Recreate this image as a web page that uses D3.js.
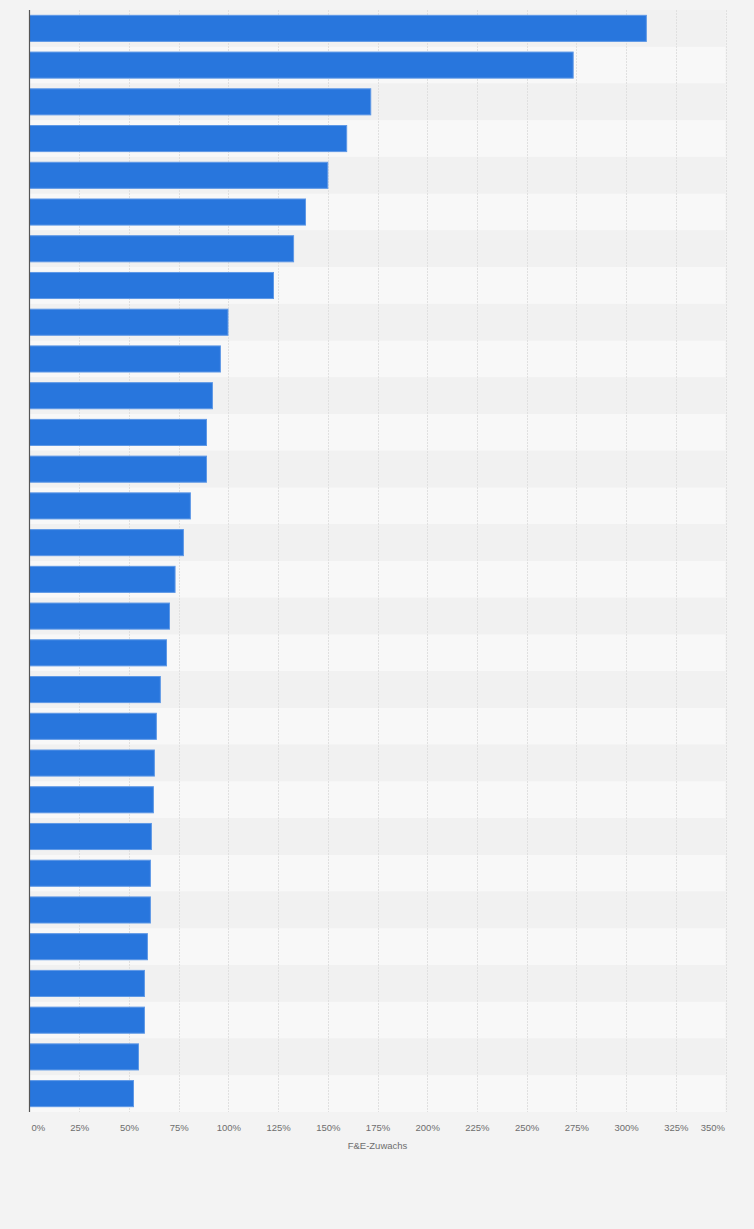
<!DOCTYPE html>
<html>
<head>
<meta charset="utf-8">
<script src="https://cdn.jsdelivr.net/npm/d3@7"></script>
<style>
  html, body { margin: 0; padding: 0; background: #f3f3f3; }
  svg { display: block; font-family: "Liberation Sans", Arial, sans-serif; }
</style>
</head>
<body>
<svg id="chart" width="754" height="1229"></svg>
<script>
// Categories (ranks; the reference shows no category labels)
const categories = ["1","2","3","4","5","6","7","8","9","10","11","12","13","14","15",
                    "16","17","18","19","20","21","22","23","24","25","26","27","28","29","30"];
// F&E-Zuwachs in %
const values = [310.2, 273.4, 171.6, 159.5, 150.0, 138.8, 132.8, 122.7, 99.8, 96.0,
                 92.0, 89.0, 89.0, 80.9, 77.4, 73.2, 70.4, 68.9, 65.8, 63.8,
                 62.8, 62.3, 61.3, 60.8, 60.8, 59.3, 57.8, 57.8, 54.8, 52.3];
const tickValues = [0, 25, 50, 75, 100, 125, 150, 175, 200, 225, 250, 275, 300, 325, 350];
const axisTitle = "F&E-Zuwachs";

(function () {
const svg = d3.select("#chart");
const W = 754, H = 1229;
const mLeft = 29.5, mRight = 725.5, mTop = 10, mBottom = 1112;

svg.append("rect").attr("width", W).attr("height", H).attr("fill", "#f3f3f3");

const x = d3.scaleLinear().domain([0, 350]).range([mLeft, mRight]);
const y = d3.scaleBand().domain(categories).range([mTop, mBottom]).paddingInner(0.29).paddingOuter(0.145);
const yRow = d3.scaleBand().domain(categories).range([mTop, mBottom]);

// alternating row bands
svg.append("g").selectAll("rect").data(categories).join("rect")
  .attr("x", mLeft).attr("width", mRight - mLeft)
  .attr("y", d => yRow(d)).attr("height", yRow.bandwidth())
  .attr("fill", (d, i) => i % 2 === 0 ? "#f1f1f1" : "#f8f8f8");

// gridlines
svg.append("g").selectAll("line").data(tickValues.slice(1)).join("line")
  .attr("x1", d => Math.round(x(d)) + 0.5).attr("x2", d => Math.round(x(d)) + 0.5)
  .attr("y1", mTop).attr("y2", mBottom)
  .attr("stroke", "#e0e0e0").attr("stroke-width", 1).attr("stroke-dasharray", "2,1");

// bars
svg.append("g").selectAll("rect").data(values).join("rect")
  .attr("x", x(0))
  .attr("y", (d, i) => y(categories[i]))
  .attr("width", d => x(d) - x(0))
  .attr("height", y.bandwidth())
  .attr("fill", "#2876dd")
  .attr("stroke", "#5e98e6").attr("stroke-width", 1);

// y axis line
svg.append("line").attr("x1", mLeft).attr("x2", mLeft).attr("y1", mTop).attr("y2", mBottom)
  .attr("stroke", "#555").attr("stroke-width", 1.2);

// x axis tick labels
const xAxis = d3.axisBottom(x).tickValues(tickValues).tickSize(0).tickPadding(0).tickFormat(d => d + "%");
const gx = svg.append("g").attr("transform", `translate(0,${mBottom})`).call(xAxis);
gx.select(".domain").remove();
gx.selectAll("text")
  .attr("y", 19).attr("dy", 0)
  .attr("fill", "#6e6e6e").attr("font-size", "9.5px")
  .attr("font-family", "'Liberation Sans', Arial, sans-serif")
  .attr("text-anchor", (d, i) => i === 0 ? "start" : (i === tickValues.length - 1 ? "end" : "middle"))
  .attr("x", (d, i) => i === 0 ? 1.5 : (i === tickValues.length - 1 ? -1 : 0));

// axis title
svg.append("text").attr("x", (mLeft + mRight) / 2).attr("y", 1149)
  .attr("text-anchor", "middle").attr("fill", "#6e6e6e").attr("font-size", "9.5px")
  .text(axisTitle);
})();
</script>
</body>
</html>
